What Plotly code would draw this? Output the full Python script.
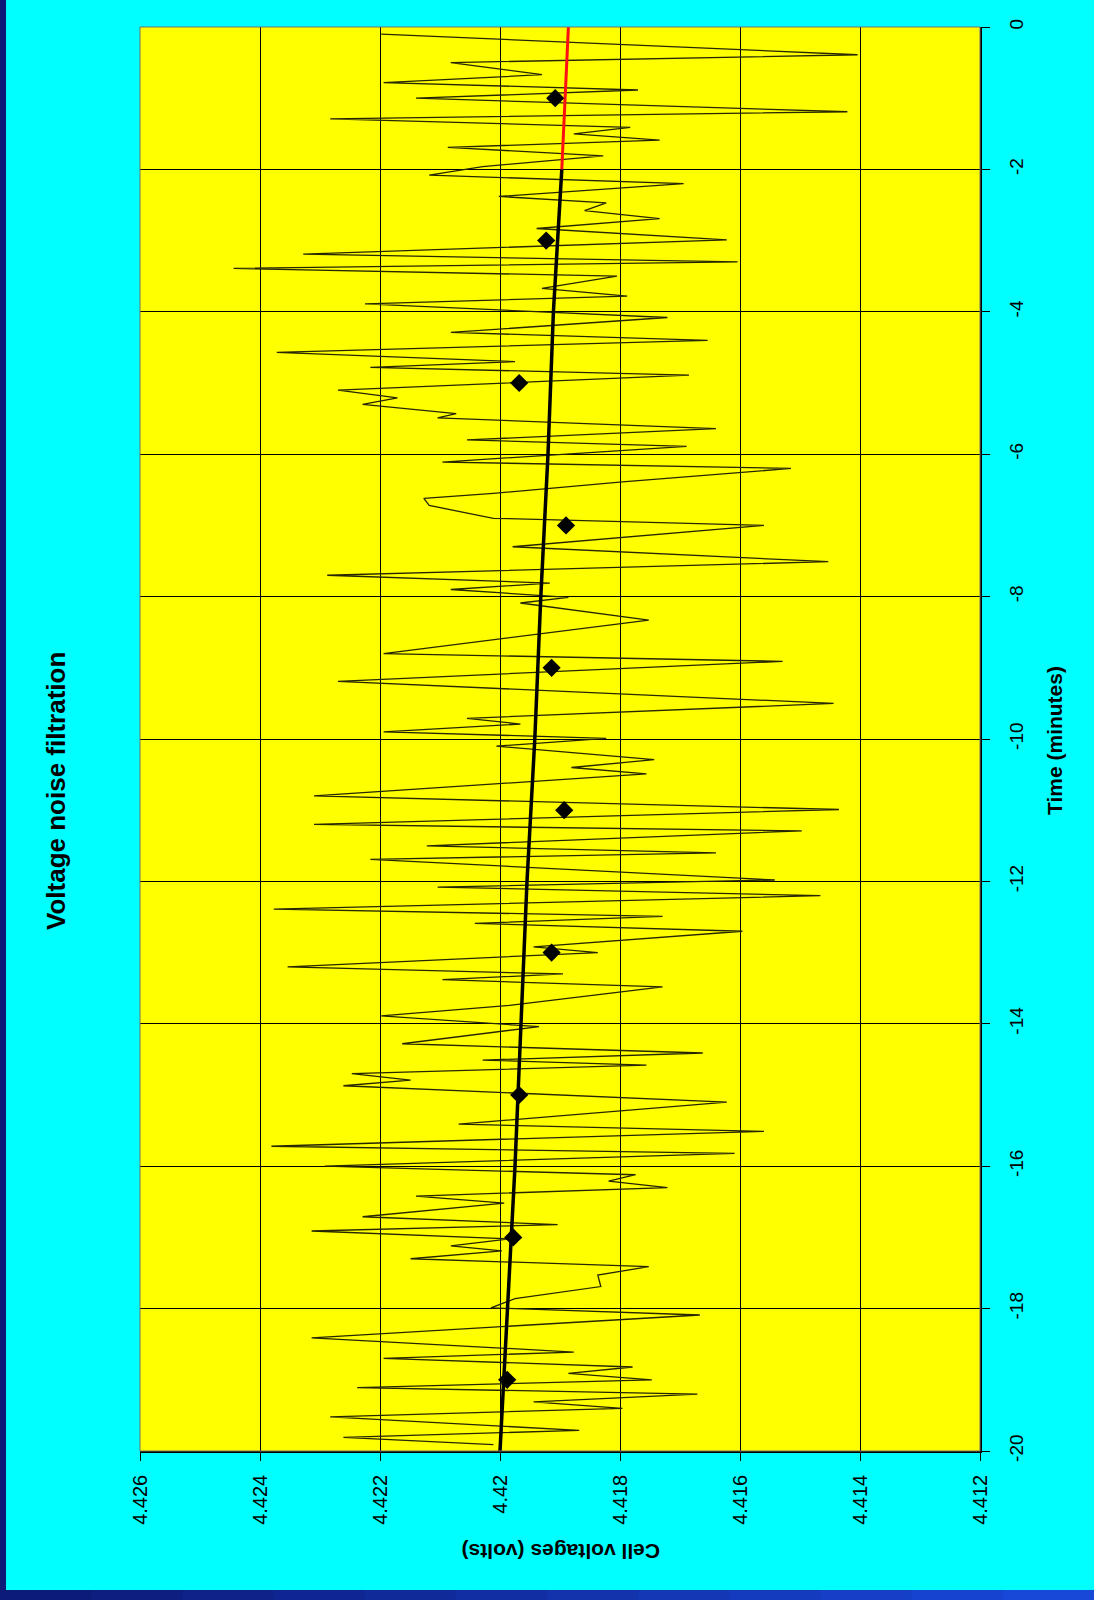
import plotly.graph_objects as go

# ---------------- data ----------------
noise_t = [-0.10, -0.39, -0.50, -0.67, -0.78, -0.885, -1.00, -1.19, -1.29, -1.41, -1.50, -1.59, -1.69, -1.81, -1.96,
           -2.08, -2.20, -2.38, -2.47, -2.58, -2.69, -2.83, -2.99, -3.19, -3.30, -3.39, -3.50, -3.67, -3.78, -3.89,
           -4.08, -4.29, -4.40, -4.57, -4.70, -4.78, -4.89,
           -5.10, -5.21, -5.30, -5.43, -5.49, -5.64, -5.80, -5.89, -6.11, -6.20, -6.39, -6.55, -6.62, -6.72, -6.90,
           -7.00, -7.30, -7.51, -7.70, -7.81, -7.90, -8.01, -8.09, -8.33, -8.80, -8.91, -9.19, -9.50, -9.71, -9.79, -9.90,
           -9.99, -10.10, -10.29, -10.40, -10.49, -10.80, -10.99, -11.20, -11.29, -11.50, -11.60, -11.69, -11.98,
           -12.08, -12.20, -12.39, -12.49, -12.59, -12.70, -12.92, -13.00, -13.20, -13.30, -13.38, -13.48, -13.74,
           -13.89, -14.04, -14.28, -14.41, -14.51, -14.58, -14.70, -14.79, -14.87,
           -15.10, -15.41, -15.51, -15.72, -15.82, -16.00, -16.12, -16.21, -16.30, -16.42, -16.52, -16.71, -16.82,
           -16.91, -17.02, -17.12, -17.19, -17.30, -17.41, -17.53, -17.69, -17.86, -17.99, -18.09, -18.41, -18.61,
           -18.70, -18.82, -18.91, -19.00, -19.11, -19.20, -19.31, -19.40, -19.52, -19.71, -19.81, -19.91]
noise_v = [4.42198, 4.41404, 4.42082, 4.41930, 4.42194, 4.41770, 4.42140, 4.41421, 4.42283, 4.41783, 4.41877, 4.41734,
           4.42087, 4.41828, 4.42029,
           4.42118, 4.41694, 4.42002, 4.41823, 4.41859, 4.41734, 4.41939, 4.41622, 4.42328, 4.41604, 4.42444, 4.41805,
           4.41930, 4.41788, 4.42225,
           4.41721, 4.42082, 4.41654, 4.42372, 4.41975, 4.42216, 4.41685,
           4.42270, 4.42171, 4.42229, 4.42073, 4.42104, 4.41640, 4.42055, 4.41689, 4.42096, 4.41515, 4.41796, 4.42011,
           4.42127, 4.42118, 4.42011,
           4.41560, 4.41979, 4.41453, 4.42288, 4.41917, 4.42082, 4.41886, 4.41966, 4.41752, 4.42194, 4.41529, 4.42270,
           4.41444, 4.42055, 4.41966, 4.42194,
           4.41823, 4.42006, 4.41743, 4.41881, 4.41756, 4.42310, 4.41435, 4.42310, 4.41497, 4.42122, 4.41640, 4.42216,
           4.41542,
           4.42104, 4.41466, 4.42377, 4.41729, 4.42042, 4.41596, 4.41944, 4.41837, 4.42354, 4.41895, 4.42096, 4.41729,
           4.41984,
           4.42198, 4.41935, 4.42163, 4.41662, 4.42029, 4.41756, 4.42247, 4.42149, 4.42261,
           4.41622, 4.42069, 4.41560, 4.42381, 4.41609, 4.42292, 4.41774, 4.41819, 4.41721, 4.42140, 4.41993, 4.42229,
           4.41904,
           4.42314, 4.41984, 4.42082, 4.41997, 4.42149, 4.41752, 4.41837, 4.41832, 4.41975, 4.42015, 4.41667, 4.42314,
           4.41877,
           4.42194, 4.41779, 4.41886, 4.41747, 4.42238, 4.41671, 4.41944, 4.41796, 4.42283, 4.41868, 4.42261, 4.42011]

filt_t = [-20, -18, -16, -14, -12, -10, -8, -6, -4, -2]
filt_v = [4.42000, 4.41988, 4.41975, 4.41965, 4.41955, 4.41942, 4.41932, 4.41920, 4.41911, 4.41897]

pred_t = [-2, -1, 0]
pred_v = [4.41897, 4.41892, 4.41886]

avg_t = [-19, -17, -15, -13, -11, -9, -7, -5, -3, -1]
avg_v = [4.41988, 4.41978, 4.41968, 4.41914, 4.41893, 4.41914, 4.41890, 4.41968, 4.41923, 4.41908]

v_ticks = [4.426, 4.424, 4.422, 4.420, 4.418, 4.416, 4.414, 4.412]
v_ticklabels = ["4.426", "4.424", "4.422", "4.42", "4.418", "4.416", "4.414", "4.412"]
t_ticks = [0, -2, -4, -6, -8, -10, -12, -14, -16, -18, -20]
t_ticklabels = ["0", "-2", "-4", "-6", "-8", "-10", "-12", "-14", "-16", "-18", "-20"]

TITLE = "Voltage noise filtration"
X_TITLE = "Cell voltages (volts)"
T_TITLE = "Time (minutes)"

# ---------------- figure ----------------
W, H = 1094, 1600
L, R, T, B = 140, 114, 27, 149
PW, PH = W - L - R, H - T - B

def px(xpix):
    return (xpix - L) / PW

def py(ypix):
    return (H - B - ypix) / PH

FONT = "Liberation Sans, Arial, sans-serif"

fig = go.Figure()
fig.add_trace(go.Scatter(x=noise_v, y=noise_t, mode="lines",
                         line=dict(color="#262600", width=1.3), showlegend=False, hoverinfo="skip"))
fig.add_trace(go.Scatter(x=filt_v, y=filt_t, mode="lines",
                         line=dict(color="black", width=3.5), showlegend=False))
fig.add_trace(go.Scatter(x=pred_v, y=pred_t, mode="lines",
                         line=dict(color="#ff1010", width=3), showlegend=False))
fig.add_trace(go.Scatter(x=avg_v, y=avg_t, mode="markers",
                         marker=dict(symbol="diamond", size=14, color="black"), showlegend=False))

shapes = []
# plot-area border (thin grey)
shapes.append(dict(type="rect", xref="paper", yref="paper", x0=0, x1=1, y0=0, y1=1,
                   line=dict(color="#707070", width=1), layer="above"))
# left navy strip
shapes.append(dict(type="rect", xref="paper", yref="paper", x0=px(0), x1=px(6), y0=py(H), y1=py(0),
                   line=dict(width=0), fillcolor="#0c1a78", layer="above"))
# bottom gradient strip
nseg = 12
c0 = (0x0c, 0x1a, 0x78)
c1 = (0x18, 0x48, 0xd8)
for i in range(nseg):
    f = i / (nseg - 1)
    col = "rgb(%d,%d,%d)" % tuple(int(c0[k] + (c1[k] - c0[k]) * f) for k in range(3))
    shapes.append(dict(type="rect", xref="paper", yref="paper",
                       x0=px(W * i / nseg), x1=px(W * (i + 1) / nseg + 1), y0=py(H), y1=py(H - 10),
                       line=dict(width=0), fillcolor=col, layer="above"))

annotations = [
    dict(text="<b>%s</b>" % TITLE, xref="paper", yref="paper", x=px(56), y=py(791), textangle=-90,
         showarrow=False, xanchor="center", yanchor="middle", font=dict(family=FONT, size=26, color="black")),
    dict(text="<b>%s</b>" % T_TITLE, xref="paper", yref="paper", x=px(1055), y=py(741), textangle=-90,
         showarrow=False, xanchor="center", yanchor="middle", font=dict(family=FONT, size=21, color="black")),
    dict(text="<b>%s</b>" % X_TITLE, xref="paper", yref="paper", x=px(561), y=py(1552), textangle=180,
         showarrow=False, xanchor="center", yanchor="middle", font=dict(family=FONT, size=21, color="black")),
]

fig.update_layout(
    width=W, height=H,
    margin=dict(l=L, r=R, t=T, b=B, pad=0),
    paper_bgcolor="#00ffff",
    plot_bgcolor="#ffff00",
    shapes=shapes,
    annotations=annotations,
    xaxis=dict(range=[4.426, 4.412], tickvals=v_ticks, ticktext=v_ticklabels, tickangle=-90,
               ticks="outside", ticklen=8, tickcolor="black", tickwidth=1,
               showline=True, linecolor="black", linewidth=1.5,
               showgrid=True, gridcolor="black", gridwidth=1, zeroline=False,
               tickfont=dict(family=FONT, size=20, color="black"), ticklabelstandoff=6),
    yaxis=dict(range=[-20, 0], side="right", tickvals=t_ticks, ticktext=t_ticklabels, tickangle=-90,
               ticks="outside", ticklen=8, tickcolor="black", tickwidth=1,
               showline=True, linecolor="black", linewidth=1.5,
               showgrid=True, gridcolor="black", gridwidth=1, zeroline=False,
               tickfont=dict(family=FONT, size=19, color="black"), ticklabelstandoff=10),
)

fig.write_html("out.html", config={"displayModeBar": False},
               post_script="document.body.style.margin='0';document.body.style.overflow='hidden';")
